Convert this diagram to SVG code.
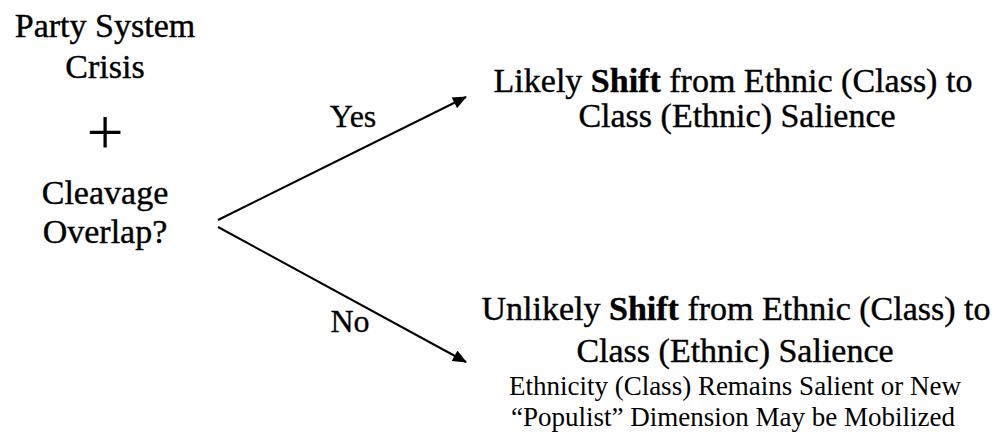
<svg xmlns="http://www.w3.org/2000/svg" width="1003" height="434" viewBox="0 0 1003 434" font-family="'Liberation Serif', 'DejaVu Serif', serif">
  <defs>
    <marker id="head" viewBox="0 0 14 12" refX="13" refY="6" markerWidth="15" markerHeight="12" markerUnits="userSpaceOnUse" orient="auto">
      <path d="M0,0 L14,6 L0,12 Z" fill="#000"/>
    </marker>
    <style>
      .big { font-size: 34px; text-anchor: middle; stroke: #000; stroke-width: 0.4px; }
      .small { font-size: 27px; text-anchor: middle; }
      .lbl { font-size: 32px; text-anchor: middle; stroke: #000; stroke-width: 0.3px; }
      .b { font-weight: bold; }
      .edge { stroke: #000; stroke-width: 2; fill: none; }
    </style>
  </defs>
  <rect width="1003" height="434" fill="#fff"/>

  <!-- condition on the left -->
  <g id="condition" fill="#000">
    <text class="big" x="105" y="37">Party System</text>
    <text class="big" x="105" y="78">Crisis</text>
    <text x="105" y="154" font-size="66" text-anchor="middle">+</text>
    <text class="big" x="105" y="204">Cleavage</text>
    <text class="big" x="105" y="243">Overlap?</text>
  </g>

  <!-- branches -->
  <g id="connectors" fill="#000">
    <line class="edge" x1="218" y1="220" x2="466" y2="97" marker-end="url(#head)"/>
    <line class="edge" x1="218" y1="227" x2="466" y2="362" marker-end="url(#head)"/>
    <text class="lbl" x="353" y="127">Yes</text>
    <text class="lbl" x="350" y="332">No</text>
  </g>

  <!-- outcome when overlap -->
  <g id="outcome-yes" fill="#000">
    <text class="big" x="733" y="92">Likely <tspan class="b">Shift</tspan> from Ethnic (Class) to</text>
    <text class="big" x="737" y="127">Class (Ethnic) Salience</text>
  </g>

  <!-- outcome without overlap -->
  <g id="outcome-no" fill="#000">
    <text class="big" x="736" y="320">Unlikely <tspan class="b">Shift</tspan> from Ethnic (Class) to</text>
    <text class="big" x="735" y="362">Class (Ethnic) Salience</text>
    <text class="small" x="735" y="395">Ethnicity (Class) Remains Salient or New</text>
    <text class="small" x="733" y="426">“Populist” Dimension May be Mobilized</text>
  </g>
</svg>
